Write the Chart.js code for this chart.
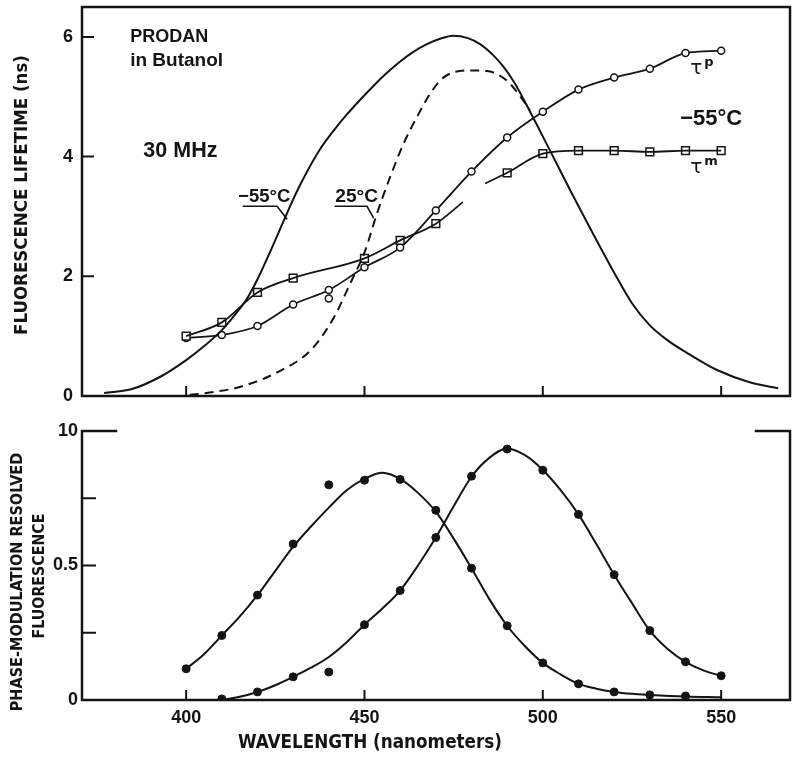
<!DOCTYPE html>
<html>
<head>
<meta charset="utf-8">
<script src="https://cdn.jsdelivr.net/npm/chart.js@4.4.1/dist/chart.umd.min.js"></script>
<style>
html, body { margin: 0; padding: 0; background: #fff; }
#wrap { position: relative; width: 800px; height: 758px; }
#top { position: absolute; left: 0; top: 0; }
#bottom { position: absolute; left: 0; top: 410px; }
</style>
</head>
<body>
<div id="wrap">
  <canvas id="top" width="800" height="410"></canvas>
  <canvas id="bottom" width="800" height="348"></canvas>
</div>
<script>
// Axis ticks
const xTicks = [400, 450, 500, 550];
const topYTicks = [0, 2, 4, 6];
const bottomYTicks = [0, 0.25, 0.5, 0.75, 1.0];
const bottomYLabels = ['0', '', '0.5', '', '10'];

// Top panel: emission spectra drawn on the lifetime axis
const emisColdX = [377, 385, 393, 400, 405, 410, 414, 417, 420, 423.1, 427.3, 430.5, 433.8, 437.5, 441.3, 445, 448.8, 452.5, 456.3, 460, 463.7, 467.5, 471.2, 474.9, 479, 482.4, 486, 489, 492, 494.6, 499.2, 503.9, 508, 514, 520, 525, 530, 535, 541, 549, 558, 566];
const emisColdY = [0.05, 0.12, 0.33, 0.6, 0.83, 1.1, 1.38, 1.62, 1.95, 2.35, 2.92, 3.35, 3.74, 4.12, 4.43, 4.7, 4.95, 5.18, 5.4, 5.59, 5.75, 5.88, 5.97, 6.02, 5.98, 5.88, 5.7, 5.5, 5.24, 4.96, 4.43, 3.88, 3.4, 2.72, 2.06, 1.55, 1.18, 0.93, 0.7, 0.43, 0.23, 0.13];
const emisWarmX = [401, 408, 415, 425, 435, 441.3, 446, 450.2, 453.5, 457.2, 460.9, 464.7, 468.4, 472.1, 478.7, 484.3, 489.9, 494.6, 496.4];
const emisWarmY = [0.02, 0.07, 0.15, 0.38, 0.77, 1.3, 1.88, 2.43, 3.05, 3.66, 4.21, 4.66, 5.05, 5.32, 5.44, 5.43, 5.27, 4.93, 4.77];

// Top panel: phase (tau p) lifetimes, open circles
const tauPX = [400, 410, 420, 430, 440, 450, 460, 470, 480, 490, 500, 510, 520, 530, 540, 550];
const tauPY = [0.97, 1.02, 1.17, 1.53, 1.77, 2.15, 2.48, 3.1, 3.75, 4.32, 4.75, 5.12, 5.32, 5.47, 5.73, 5.77];
const tauPExtraX = [440];
const tauPExtraY = [1.63];

// Top panel: modulation (tau m) lifetimes, open squares
const tauMX = [400, 410, 420, 430, 450, 460, 470, 490, 500, 510, 520, 530, 540, 550];
const tauMY = [1.0, 1.23, 1.73, 1.97, 2.3, 2.6, 2.88, 3.73, 4.05, 4.1, 4.1, 4.08, 4.1, 4.1];
// tau m curve, with the break left open between 477 and 484 nm
const tauMLineX = [400, 410, 420, 430, 450, 460, 470, 477.6, 481, 483.8, 490, 500, 510, 520, 530, 540, 550];
const tauMLineY = [1.0, 1.23, 1.73, 1.97, 2.3, 2.6, 2.88, 3.24, null, 3.55, 3.73, 4.05, 4.1, 4.1, 4.08, 4.1, 4.1];

// Bottom panel: phase-modulation resolved spectra (measured points)
const pmBlueX = [400, 410, 420, 430, 450, 460, 470, 480, 490, 500, 510, 520, 530, 540];
const pmBlueY = [0.116, 0.24, 0.39, 0.58, 0.817, 0.82, 0.705, 0.49, 0.276, 0.138, 0.06, 0.03, 0.019, 0.015];
const pmRedX = [410, 420, 430, 450, 460, 470, 480, 490, 500, 510, 520, 530, 540, 550];
const pmRedY = [0.004, 0.03, 0.086, 0.28, 0.407, 0.604, 0.832, 0.933, 0.854, 0.69, 0.466, 0.258, 0.142, 0.09];
const pmOutX = [440, 440];
const pmOutY = [0.80, 0.104];

// Bottom panel: smooth curves drawn through the points
const fitBlueX = [400, 405, 410, 415, 420, 425, 430, 435, 440, 445, 450, 455, 460, 465, 470, 475, 480, 485, 490, 495, 500, 505, 510, 515, 520, 525, 530, 540, 550];
const fitBlueY = [0.116, 0.17, 0.24, 0.31, 0.39, 0.48, 0.57, 0.645, 0.715, 0.78, 0.822, 0.845, 0.822, 0.77, 0.7, 0.6, 0.49, 0.375, 0.276, 0.2, 0.138, 0.095, 0.06, 0.042, 0.03, 0.023, 0.019, 0.013, 0.01];
const fitRedX = [410, 415, 420, 425, 430, 435, 440, 445, 450, 455, 460, 465, 470, 475, 480, 485, 490, 495, 500, 505, 510, 515, 520, 525, 530, 535, 540, 545, 550];
const fitRedY = [0.0, 0.012, 0.03, 0.055, 0.086, 0.12, 0.16, 0.215, 0.28, 0.34, 0.407, 0.5, 0.604, 0.72, 0.83, 0.9, 0.935, 0.91, 0.855, 0.78, 0.69, 0.58, 0.466, 0.36, 0.258, 0.19, 0.142, 0.11, 0.09];

const X_MIN = 370.8;
const X_MAX = 569.3;
const INK = '#141414';

function pts(xs, ys) {
    return xs.map((x, i) => ({ x: x, y: ys[i] }));
}

function fitFont(ctx, text, family, weight, width) {
    ctx.font = weight + ' 100px ' + family;
    const w = ctx.measureText(text).width;
    return weight + ' ' + (100 * width / w).toFixed(1) + 'px ' + family;
}

const TITLE_FAMILY = '"DejaVu Sans Condensed", "Liberation Sans Narrow", sans-serif';
const NOTE_FAMILY = '"Liberation Sans", Arial, sans-serif';
const tickFont = { family: 'Liberation Sans', size: 18, weight: 'bold' };

// Frame, inward tick marks, titles and notes
const decorPlugin = {
    id: 'decor',
    afterDraw(chart, args, opts) {
        const { ctx, chartArea: a, scales } = chart;
        ctx.save();
        ctx.strokeStyle = INK;
        ctx.fillStyle = INK;
        ctx.lineCap = 'square';

        // frame
        ctx.lineWidth = 2.5;
        ctx.beginPath();
        if (opts.fullBox) {
            ctx.rect(a.left, a.top, a.right - a.left, a.bottom - a.top);
        } else {
            ctx.moveTo(a.left + 34, a.top);
            ctx.lineTo(a.left, a.top);
            ctx.lineTo(a.left, a.bottom);
            ctx.lineTo(a.right, a.bottom);
            ctx.lineTo(a.right, a.top);
            ctx.lineTo(a.right - 34, a.top);
        }
        ctx.stroke();

        // inward ticks
        ctx.lineWidth = 2;
        ctx.beginPath();
        opts.yTicks.forEach(v => {
            const py = scales.y.getPixelForValue(v);
            if (py <= a.top + 1 || py >= a.bottom - 1) return;
            ctx.moveTo(a.left, py);
            ctx.lineTo(a.left + opts.yTickLen, py);
        });
        xTicks.forEach(v => {
            const px = scales.x.getPixelForValue(v);
            ctx.moveTo(px, a.bottom);
            ctx.lineTo(px, a.bottom - 9);
        });
        ctx.stroke();

        // leader lines for labels
        ctx.lineWidth = 1.6;
        ctx.lineCap = 'round';
        (opts.leaders || []).forEach(line => {
            ctx.beginPath();
            line.forEach((p, i) => {
                const px = scales.x.getPixelForValue(p[0]);
                const py = scales.y.getPixelForValue(p[1]);
                if (i === 0) ctx.moveTo(px, py); else ctx.lineTo(px, py);
            });
            ctx.stroke();
        });

        // notes in data coordinates
        ctx.textBaseline = 'middle';
        ctx.textAlign = 'left';
        (opts.notes || []).forEach(n => {
            const px = scales.x.getPixelForValue(n.x);
            const py = scales.y.getPixelForValue(n.y);
            if (n.sup) {
                ctx.font = '20px "DejaVu Sans", sans-serif';
                ctx.fillText(n.text, px, py);
                const w = ctx.measureText(n.text).width;
                ctx.font = 'bold 13px "DejaVu Sans", sans-serif';
                ctx.fillText(n.sup, px + w + 2, py - 6);
            } else {
                ctx.font = fitFont(ctx, n.text, NOTE_FAMILY, 'bold', n.w);
                ctx.fillText(n.text, px, py);
            }
        });

        // axis titles (pixel layout)
        ctx.textAlign = 'center';
        (opts.titles || []).forEach(t => {
            ctx.save();
            ctx.translate(t.cx, t.cy);
            if (t.rotate) ctx.rotate(-Math.PI / 2);
            ctx.font = fitFont(ctx, t.text, TITLE_FAMILY, 'bold', t.w);
            ctx.fillText(t.text, 0, 0);
            ctx.restore();
        });

        ctx.restore();
    }
};

function xScale(showLabels, height) {
    return {
        type: 'linear',
        min: X_MIN,
        max: X_MAX,
        grid: { display: false, drawTicks: false },
        border: { display: false },
        afterBuildTicks: s => { s.ticks = xTicks.map(v => ({ value: v })); },
        afterFit: s => { s.height = height; s.paddingLeft = 0; s.paddingRight = 0; },
        ticks: {
            display: showLabels,
            color: INK,
            font: tickFont,
            padding: 7,
            maxRotation: 0,
            callback: v => String(v)
        }
    };
}

function yScale(max, ticks, labels, pad) {
    return {
        type: 'linear',
        min: 0,
        max: max,
        grid: { display: false, drawTicks: false },
        border: { display: false },
        afterBuildTicks: s => { s.ticks = ticks.map(v => ({ value: v })); },
        afterFit: s => { s.width = 82; s.paddingTop = 0; s.paddingBottom = 0; },
        ticks: {
            color: INK,
            font: tickFont,
            padding: pad,
            callback: (v, i) => labels[i]
        }
    };
}

function lineSet(xs, ys, extra) {
    return Object.assign({
        data: pts(xs, ys),
        borderColor: INK,
        borderWidth: 2,
        pointRadius: 0,
        cubicInterpolationMode: 'monotone',
        spanGaps: false,
        fill: false
    }, extra || {});
}

function markerSet(xs, ys, extra) {
    return Object.assign({
        data: pts(xs, ys),
        showLine: false,
        pointRadius: 4,
        pointBackgroundColor: INK,
        pointBorderColor: INK,
        pointBorderWidth: 1
    }, extra || {});
}

const commonOptions = {
    responsive: false,
    animation: false,
    events: [],
    plugins: { legend: { display: false }, tooltip: { enabled: false } }
};

const openCircle = { pointStyle: 'circle', pointRadius: 3.5, pointBackgroundColor: '#fff', pointBorderColor: INK, pointBorderWidth: 1.5 };
const openSquare = { pointStyle: 'rect', pointRadius: 5.5, pointBackgroundColor: '#fff', pointBorderColor: INK, pointBorderWidth: 1.5 };

new Chart(document.getElementById('top'), {
    type: 'line',
    data: {
        datasets: [
            lineSet(emisColdX, emisColdY),
            lineSet(emisWarmX, emisWarmY, { borderDash: [9, 6] }),
            lineSet(tauMLineX, tauMLineY, { borderWidth: 1.8 }),
            markerSet(tauMX, tauMY, openSquare),
            lineSet(tauPX, tauPY, Object.assign({ borderWidth: 1.8 }, openCircle)),
            markerSet(tauPExtraX, tauPExtraY, openCircle)
        ]
    },
    options: Object.assign({}, commonOptions, {
        layout: { padding: { left: 0, right: 10, top: 6, bottom: 0 } },
        scales: {
            x: xScale(false, 14),
            y: yScale(6.5, topYTicks, topYTicks.map(String), 9)
        },
        plugins: Object.assign({}, commonOptions.plugins, {
            decor: {
                fullBox: true,
                yTicks: topYTicks,
                yTickLen: 11,
                leaders: [
                    [[416, 3.17], [425.5, 3.17], [428.2, 2.96]],
                    [[441.8, 3.17], [450.7, 3.17], [452.5, 2.98]]
                ],
                notes: [
                    { text: 'PRODAN', x: 384.3, y: 5.99, w: 78 },
                    { text: 'in Butanol', x: 384.3, y: 5.6, w: 93 },
                    { text: '30 MHz', x: 388, y: 4.1, w: 74 },
                    { text: '\u221255\u00b0C', x: 414.6, y: 3.33, w: 52 },
                    { text: '25\u00b0C', x: 441.8, y: 3.33, w: 43 },
                    { text: '\u221255\u00b0C', x: 538.5, y: 4.63, w: 62 },
                    { text: '\u03c4', sup: 'p', x: 541.3, y: 5.47 },
                    { text: '\u03c4', sup: 'm', x: 541.3, y: 3.82 }
                ],
                titles: [
                    { text: 'FLUORESCENCE LIFETIME (ns)', cx: 22, cy: 195, w: 280, rotate: true }
                ]
            }
        })
    }),
    plugins: [decorPlugin]
});

new Chart(document.getElementById('bottom'), {
    type: 'line',
    data: {
        datasets: [
            lineSet(fitBlueX, fitBlueY),
            lineSet(fitRedX, fitRedY),
            markerSet(pmBlueX, pmBlueY),
            markerSet(pmRedX, pmRedY),
            markerSet(pmOutX, pmOutY)
        ]
    },
    options: Object.assign({}, commonOptions, {
        layout: { padding: { left: 0, right: 10, top: 21, bottom: 0 } },
        scales: {
            x: xScale(true, 58),
            y: yScale(1.0, bottomYTicks, bottomYLabels, 4)
        },
        plugins: Object.assign({}, commonOptions.plugins, {
            decor: {
                fullBox: false,
                yTicks: bottomYTicks,
                yTickLen: 13,
                titles: [
                    { text: 'PHASE-MODULATION RESOLVED', cx: 18, cy: 172, w: 258, rotate: true },
                    { text: 'FLUORESCENCE', cx: 40, cy: 166, w: 125, rotate: true },
                    { text: 'WAVELENGTH (nanometers)', cx: 370, cy: 333, w: 264, rotate: false }
                ]
            }
        })
    }),
    plugins: [decorPlugin]
});
</script>
</body>
</html>
